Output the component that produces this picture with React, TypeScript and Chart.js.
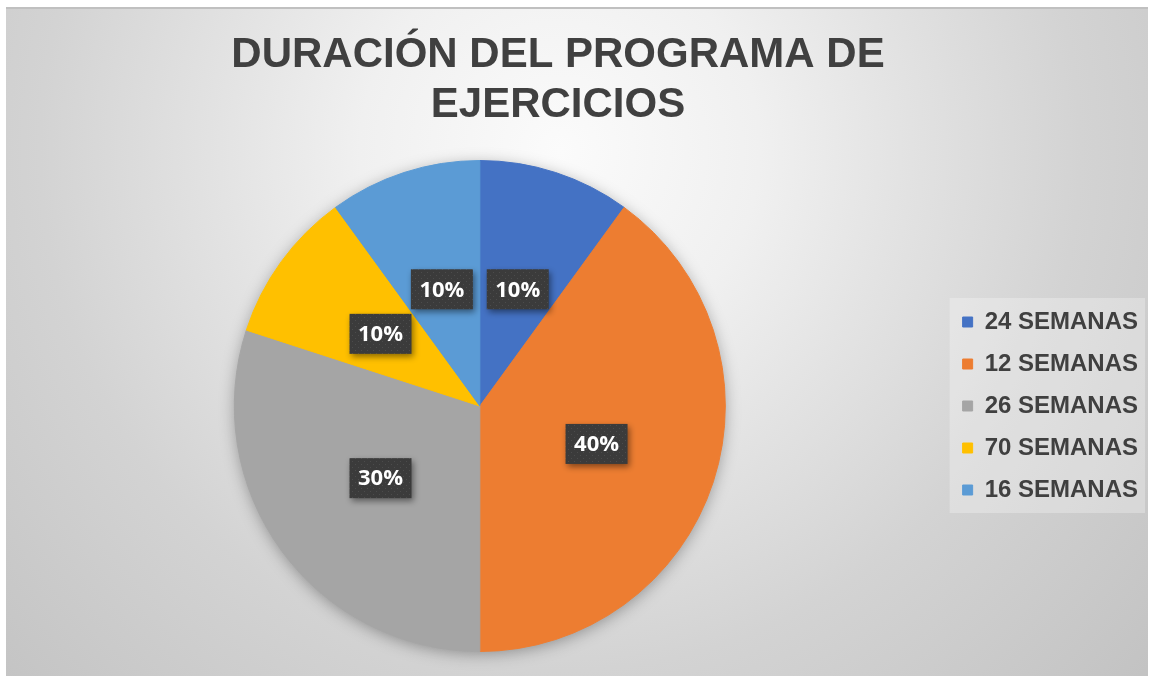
import React, { useEffect, useRef } from "react";
import { Chart, registerables } from "chart.js";

Chart.register(...registerables);

const TITLE_LINES = ["DURACIÓN DEL PROGRAMA DE", "EJERCICIOS"];
const CATEGORIES = ["24 SEMANAS", "12 SEMANAS", "26 SEMANAS", "70 SEMANAS", "16 SEMANAS"];
const PERCENTAGES = [10, 40, 30, 10, 10];
const COLORS = ["#4472C4", "#ED7D31", "#A5A5A5", "#FFC000", "#5B9BD5"];

function makePattern(ctx: CanvasRenderingContext2D) {
  const c = document.createElement("canvas");
  c.width = 6;
  c.height = 6;
  const p = c.getContext("2d")!;
  p.fillStyle = "#3b3b3b";
  p.fillRect(0, 0, 6, 6);
  p.fillStyle = "#4c4c4c";
  p.fillRect(1, 1, 1, 1);
  p.fillRect(4, 4, 1, 1);
  return ctx.createPattern(c, "repeat") || "#3b3b3b";
}

const titlePlugin = {
  id: "excelTitle",
  afterDraw(chart: any) {
    const ctx = chart.ctx;
    ctx.save();
    ctx.font = "bold 42px 'Liberation Sans', Arial, sans-serif";
    ctx.fillStyle = "#404040";
    ctx.textAlign = "center";
    ctx.textBaseline = "middle";
    const cx = chart.width / 2 - 19;
    TITLE_LINES.forEach((line, i) => ctx.fillText(line, cx, 48 + i * 50));
    ctx.restore();
  },
};

const legendBgPlugin = {
  id: "legendBg",
  beforeDraw(chart: any) {
    const lg = chart.legend;
    if (!lg || !lg.legendHitBoxes || !lg.legendHitBoxes.length) return;
    const hb = lg.legendHitBoxes;
    const left = Math.min(...hb.map((h: any) => h.left)) - 13;
    const right = Math.max(...hb.map((h: any) => h.left + h.width)) + 7;
    const top = hb[0].top - 12;
    const bottom = hb[hb.length - 1].top + 35;
    const ctx = chart.ctx;
    ctx.save();
    ctx.fillStyle = "rgba(255,255,255,0.28)";
    ctx.fillRect(left, top, right - left, bottom - top);
    ctx.restore();
  },
};

const pieShadowPlugin = {
  id: "pieShadow",
  beforeDatasetsDraw(chart: any) {
    const meta = chart.getDatasetMeta(0);
    const arc = meta.data[0];
    if (!arc) return;
    const { x, y, outerRadius } = arc.getProps(["x", "y", "outerRadius"], true);
    const ctx = chart.ctx;
    ctx.save();
    ctx.shadowColor = "rgba(0,0,0,0.35)";
    ctx.shadowBlur = 16;
    ctx.shadowOffsetY = 3;
    ctx.fillStyle = "#9a9a9a";
    ctx.beginPath();
    ctx.arc(x, y, outerRadius - 1, 0, Math.PI * 2);
    ctx.fill();
    ctx.restore();
  },
};

const dataLabelPlugin = {
  id: "dataLabels",
  afterDatasetsDraw(chart: any) {
    const meta = chart.getDatasetMeta(0);
    const ctx = chart.ctx;
    const pattern = makePattern(ctx);
    const values = chart.data.datasets[0].data as number[];
    meta.data.forEach((arc: any, i: number) => {
      const { x, y } = arc.tooltipPosition(true);
      const text = values[i] + "%";
      ctx.save();
      ctx.font = "bold 22px 'Open Sans', 'DejaVu Sans', sans-serif";
      const tw = ctx.measureText(text).width;
      const w = tw + 17;
      const h = 40;
      ctx.shadowColor = "rgba(0,0,0,0.45)";
      ctx.shadowBlur = 6;
      ctx.shadowOffsetX = 2;
      ctx.shadowOffsetY = 3;
      ctx.fillStyle = pattern;
      ctx.fillRect(x - w / 2, y - h / 2, w, h);
      ctx.shadowColor = "transparent";
      ctx.fillStyle = "#ffffff";
      ctx.textAlign = "center";
      ctx.textBaseline = "middle";
      ctx.fillText(text, x, y + 1);
      ctx.restore();
    });
  },
};

export default function App() {
  const canvasRef = useRef<HTMLCanvasElement | null>(null);

  useEffect(() => {
    if (!canvasRef.current) return;
    const chart = new Chart(canvasRef.current, {
      type: "pie",
      data: {
        labels: CATEGORIES,
        datasets: [
          {
            data: PERCENTAGES,
            backgroundColor: COLORS,
            borderColor: COLORS,
            borderWidth: 1,
          },
        ],
      },
      options: {
        animation: false,
        responsive: true,
        maintainAspectRatio: false,
        events: [],
        layout: { padding: { left: 9, right: 0, top: 153, bottom: 24 } },
        plugins: {
          tooltip: { enabled: false },
          title: { display: false },
          legend: {
            display: true,
            position: "right",
            fullSize: false,
            align: "center",
            labels: {
              boxWidth: 10,
              boxHeight: 10,
              padding: 18,
              color: "#404040",
              font: { family: "'Liberation Sans', Arial, sans-serif", size: 24, weight: "bold" },
            },
          },
        },
      },
      plugins: [legendBgPlugin, pieShadowPlugin, dataLabelPlugin, titlePlugin],
    });
    return () => chart.destroy();
  }, []);

  return (
    <div
      style={{
        position: "absolute",
        left: 6,
        top: 7,
        width: 1142,
        height: 669,
        overflow: "hidden",
        background:
          "radial-gradient(circle at 554px 143px, #fbfbfb 0px, #f0f0f0 200px, #e3e3e3 340px, #d3d3d3 520px, #c2c2c2 800px)",
        boxShadow: "inset 0 2px 0 #c0c0c0",
      }}
    >
      <div style={{ position: "absolute", left: 0, top: 0, width: 1142, height: 669 }}>
        <canvas ref={canvasRef} />
      </div>
    </div>
  );
}
